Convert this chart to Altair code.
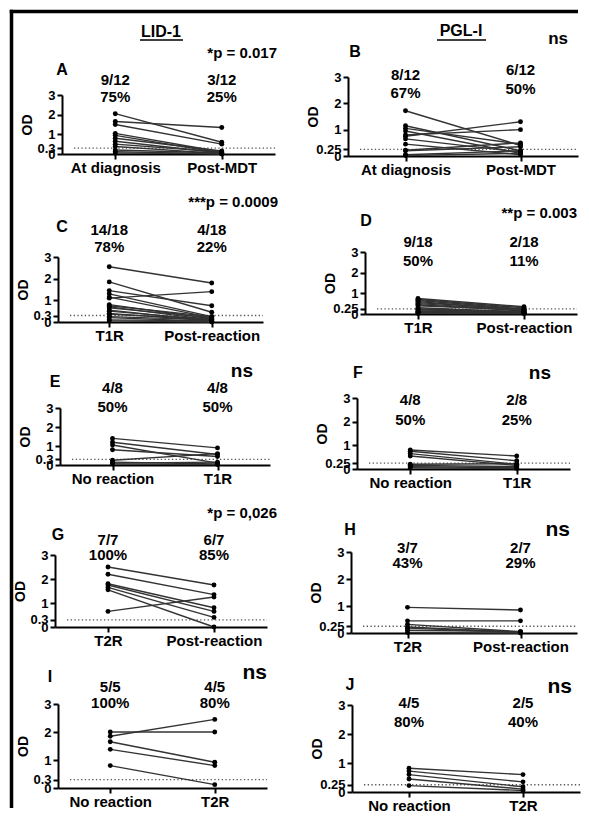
import altair as alt
import pandas as pd

FONT = "Liberation Sans"

# ---------------- data ----------------
COLUMN_TITLES = ["LID-1", "PGL-I"]
LID_TICKS = [0, 0.3, 1, 2, 3]
PGL_TICKS = [0, 0.25, 1, 2, 3]

A_CATS = ["At diagnosis", "Post-MDT"]
A_PRE = [2.05, 1.65, 1.5, 1.05, 0.95, 0.8, 0.65, 0.5, 0.38, 0.2, 0.12, 0.05]
A_POST = [0.6, 1.35, 0.5, 0.1, 0.05, 0.15, 0.05, 0.1, 0.02, 0.05, 0.0, 0.02]
A_COUNTS = [["9/12", "75%"], ["3/12", "25%"]]
A_P = "*p = 0.017"

B_CATS = ["At diagnosis", "Post-MDT"]
B_PRE = [1.72, 1.15, 1.05, 0.95, 0.8, 0.75, 0.65, 0.45, 0.22, 0.2, 0.05, 0.02]
B_POST = [0.4, 0.2, 0.45, 0.1, 1.0, 1.3, 0.15, 0.05, 0.5, 0.35, 0.2, 0.1]
B_COUNTS = [["8/12", "67%"], ["6/12", "50%"]]
B_P = "ns"

C_CATS = ["T1R", "Post-reaction"]
C_PRE = [2.55, 1.85, 1.45, 1.3, 1.15, 1.1, 0.8, 0.75, 0.7, 0.65, 0.55, 0.5, 0.4, 0.35, 0.25, 0.2, 0.1, 0.05]
C_POST = [1.8, 0.45, 0.75, 0.25, 0.2, 1.4, 0.15, 0.25, 0.1, 0.2, 0.05, 0.1, 0.05, 0.15, 0.1, 0.02, 0.05, 0.0]
C_COUNTS = [["14/18", "78%"], ["4/18", "22%"]]
C_P = "***p = 0.0009"

D_CATS = ["T1R", "Post-reaction"]
D_PRE = [0.75, 0.7, 0.65, 0.6, 0.55, 0.5, 0.45, 0.4, 0.3, 0.25, 0.22, 0.2, 0.15, 0.12, 0.1, 0.08, 0.05, 0.03]
D_POST = [0.35, 0.3, 0.25, 0.2, 0.22, 0.18, 0.15, 0.2, 0.1, 0.12, 0.1, 0.08, 0.05, 0.06, 0.04, 0.05, 0.03, 0.02]
D_COUNTS = [["9/18", "50%"], ["2/18", "11%"]]
D_P = "**p = 0.003"

E_CATS = ["No reaction", "T1R"]
E_PRE = [1.4, 1.2, 1.05, 0.8, 0.25, 0.15, 0.1, 0.05]
E_POST = [0.9, 0.55, 0.1, 0.45, 0.6, 0.05, 0.15, 0.02]
E_COUNTS = [["4/8", "50%"], ["4/8", "50%"]]
E_P = "ns"

F_CATS = ["No reaction", "T1R"]
F_PRE = [0.8, 0.75, 0.65, 0.55, 0.2, 0.15, 0.1, 0.05]
F_POST = [0.55, 0.35, 0.2, 0.15, 0.22, 0.1, 0.05, 0.02]
F_COUNTS = [["4/8", "50%"], ["2/8", "25%"]]
F_P = "ns"

G_CATS = ["T2R", "Post-reaction"]
G_PRE = [2.5, 2.2, 1.8, 1.75, 1.65, 1.55, 0.65]
G_POST = [1.75, 1.35, 0.8, 0.65, 0.4, 0.0, 1.25]
G_COUNTS = [["7/7", "100%"], ["6/7", "85%"]]
G_P = "*p = 0,026"

H_CATS = ["T2R", "Post-reaction"]
H_PRE = [0.95, 0.45, 0.32, 0.22, 0.18, 0.1, 0.02]
H_POST = [0.85, 0.45, 0.05, 0.03, 0.02, 0.05, 0.0]
H_COUNTS = [["3/7", "43%"], ["2/7", "29%"]]
H_P = "ns"

I_CATS = ["No reaction", "T2R"]
I_PRE = [2.0, 1.85, 1.65, 1.38, 0.8]
I_POST = [2.0, 2.45, 0.92, 0.8, 0.12]
I_COUNTS = [["5/5", "100%"], ["4/5", "80%"]]
I_P = "ns"

J_CATS = ["No reaction", "T2R"]
J_PRE = [0.82, 0.72, 0.6, 0.45, 0.22]
J_POST = [0.6, 0.35, 0.18, 0.1, 0.05]
J_COUNTS = [["4/5", "80%"], ["2/5", "40%"]]
J_P = "ns"

DATA = {
    "A": (A_CATS, A_PRE, A_POST, A_COUNTS, A_P, LID_TICKS),
    "B": (B_CATS, B_PRE, B_POST, B_COUNTS, B_P, PGL_TICKS),
    "C": (C_CATS, C_PRE, C_POST, C_COUNTS, C_P, LID_TICKS),
    "D": (D_CATS, D_PRE, D_POST, D_COUNTS, D_P, PGL_TICKS),
    "E": (E_CATS, E_PRE, E_POST, E_COUNTS, E_P, LID_TICKS),
    "F": (F_CATS, F_PRE, F_POST, F_COUNTS, F_P, PGL_TICKS),
    "G": (G_CATS, G_PRE, G_POST, G_COUNTS, G_P, LID_TICKS),
    "H": (H_CATS, H_PRE, H_POST, H_COUNTS, H_P, PGL_TICKS),
    "I": (I_CATS, I_PRE, I_POST, I_COUNTS, I_P, LID_TICKS),
    "J": (J_CATS, J_PRE, J_POST, J_COUNTS, J_P, PGL_TICKS),
}

# ---------------- layout (page pixels) ----------------
LAYOUT = {
    "A": dict(col=0, row=0, x0=62, xend=275, base=154, top=95, cy=[[80, 97], [80, 97]], letter=(62, 70), p=(277, 53), pfs=15),
    "B": dict(col=1, row=0, x0=348, xend=578, base=156, top=77, cy=[[75, 93], [70, 89]], letter=(355, 52), p=(568, 39), pfs=17),
    "C": dict(col=0, row=1, x0=58, xend=263, base=322, top=257, cy=[[230, 247], [230, 247]], letter=(62, 227), p=(278, 202), pfs=15),
    "D": dict(col=1, row=1, x0=365, xend=577, base=314, top=252, cy=[[242, 261], [242, 261]], letter=(366, 221), p=(577, 213), pfs=15),
    "E": dict(col=0, row=2, x0=60, xend=270, base=465, top=408, cy=[[388, 407], [388, 407]], letter=(55, 382), p=(253, 371), pfs=19),
    "F": dict(col=1, row=2, x0=357, xend=570, base=469, top=398, cy=[[400, 420], [400, 420]], letter=(358, 373), p=(551, 373), pfs=19),
    "G": dict(col=0, row=3, x0=55, xend=267, base=627, top=555, cy=[[540, 555], [540, 555]], letter=(58, 535), p=(277, 513), pfs=15),
    "H": dict(col=1, row=3, x0=351, xend=577, base=633, top=552, cy=[[548, 563], [548, 563]], letter=(350, 530), p=(570, 530), pfs=21),
    "I": dict(col=0, row=4, x0=58, xend=267, base=788, top=704, cy=[[687, 703], [687, 703]], letter=(50, 677), p=(267, 673), pfs=21),
    "J": dict(col=1, row=4, x0=352, xend=580, base=792, top=705, cy=[[703, 722], [703, 722]], letter=(350, 685), p=(572, 687), pfs=21),
}
ORDER = ["A", "B", "C", "D", "E", "F", "G", "H", "I", "J"]
COL_X = [55, 348]
ROW_GAP = 20
FIRST_TOP = 60
FRAME_W = 3.5

ROW_TOP = [FIRST_TOP]
for r in range(1, 5):
    prev = max(LAYOUT[k]["base"] for k in ORDER if LAYOUT[k]["row"] == r - 1)
    ROW_TOP.append(prev + ROW_GAP)
COL0_W = max(LAYOUT[k]["xend"] - COL_X[0] for k in ORDER if LAYOUT[k]["col"] == 0)
COL_GAP = COL_X[1] - COL_X[0] - COL0_W


def make_panel(key):
    cats, pre, post, counts, ptxt, ticks = DATA[key]
    lay = LAYOUT[key]
    colx = COL_X[lay["col"]]
    rowtop = ROW_TOP[lay["row"]]
    W = lay["xend"] - colx
    H = lay["base"] - rowtop
    L = lay["base"] - lay["top"]
    d = lay["x0"] - colx

    def u(py):
        return (lay["base"] - py) * 3.0 / L

    n = len(pre)
    df = pd.DataFrame({
        "subject": list(range(n)) * 2,
        "time": [cats[0]] * n + [cats[1]] * n,
        "od": list(pre) + list(post),
    })

    x = alt.X(
        "time:N",
        sort=cats,
        scale=alt.Scale(type="point", domain=cats, range=[d, W], padding=0.5),
        axis=alt.Axis(
            title=None, labelAngle=0, labelFont=FONT, labelFontSize=15,
            labelFontWeight="bold", labelColor="black", labelPadding=1,
            domainColor="black", domainWidth=2, tickColor="black",
            tickWidth=2, tickSize=5, grid=False, labelOverlap=False,
        ),
    )
    y = alt.Y(
        "od:Q",
        scale=alt.Scale(domain=[0, 3], range=[H, H - L], nice=False, zero=False),
        axis=alt.Axis(
            values=ticks, format="~g", title="OD", offset=-d,
            labelOverlap=False, labelFont=FONT, labelFontSize=13,
            labelFontWeight="bold", labelColor="black", labelPadding=2,
            domainColor="black", domainWidth=2, tickColor="black",
            tickWidth=2, tickSize=5, grid=False,
            titleFont=FONT, titleFontSize=14, titleFontWeight="bold",
            titleColor="black", titleX=-28, titleY=H - L / 2.0,
        ),
    )

    def at(py, **kw):
        row = {"od": u(py)}
        row.update(kw)
        return pd.DataFrame([row])

    thr = ticks[1]
    thr_rule = alt.Chart(pd.DataFrame([{"od": thr}])).mark_rule(
        color="#555", strokeWidth=1.3, strokeDash=[1.3, 2.4]
    ).encode(y=y, x=alt.value(d + 12), x2=alt.value(W))

    lines = alt.Chart(df).mark_line(color="#333", strokeWidth=1.4).encode(
        x=x, y=y, detail="subject:N"
    )
    pts = alt.Chart(df).mark_circle(color="black", size=24, opacity=1).encode(x=x, y=y)

    lab_rows = []
    for ci, pair in enumerate(counts):
        for ti, t in enumerate(pair):
            lab_rows.append({"time": cats[ci], "od": u(lay["cy"][ci][ti]), "txt": t})
    labs = alt.Chart(pd.DataFrame(lab_rows)).mark_text(
        font=FONT, fontSize=15, fontWeight="bold", color="black", baseline="middle"
    ).encode(x=x, y=y, text="txt:N")

    letter = alt.Chart(at(lay["letter"][1], txt=key)).mark_text(
        font=FONT, fontSize=16, fontWeight="bold", color="black", baseline="middle", align="center"
    ).encode(x=alt.value(lay["letter"][0] - colx), y=y, text="txt:N")

    ptext = alt.Chart(at(lay["p"][1], txt=ptxt)).mark_text(
        font=FONT, fontSize=lay["pfs"], fontWeight="bold", color="black", baseline="middle", align="right"
    ).encode(x=alt.value(lay["p"][0] - colx), y=y, text="txt:N")

    layers = [thr_rule, lines, pts, labs, letter, ptext]

    if key in ("A", "B"):
        title = COLUMN_TITLES[0 if key == "A" else 1]
        cx, cyy, ux1, ux2 = (161, 32, 140, 183) if key == "A" else (461, 31, 437, 486)
        head = alt.Chart(at(cyy, txt=title)).mark_text(
            font=FONT, fontSize=16, fontWeight="bold", color="black", baseline="middle", align="center"
        ).encode(x=alt.value(cx - colx), y=y, text="txt:N")
        under = alt.Chart(at(40)).mark_rule(color="black", strokeWidth=1.5).encode(
            x=alt.value(ux1 - colx), x2=alt.value(ux2 - colx), y=y
        )
        layers += [head, under]

    if key == "A":
        # Vega pads a rule's bounds by its full stroke width
        fc = 8 + FRAME_W
        frame_df = pd.DataFrame([{"k": 0}])
        left = alt.Chart(frame_df).mark_rule(color="black", strokeWidth=FRAME_W).encode(
            x=alt.value(fc - colx), y=alt.value(fc - FRAME_W / 2.0 - rowtop), y2=alt.value(808 - rowtop)
        )
        topl = alt.Chart(frame_df).mark_rule(color="black", strokeWidth=FRAME_W).encode(
            x=alt.value(fc - FRAME_W / 2.0 - colx), x2=alt.value(578 - colx), y=alt.value(fc - rowtop)
        )
        layers += [left, topl]

    return alt.layer(*layers).properties(width=W, height=H)


panels = [make_panel(k) for k in ORDER]

chart = (
    alt.concat(
        *panels,
        columns=2,
        spacing=alt.RowColnumber(row=ROW_GAP, column=COL_GAP),
        bounds="flush",
    )
    .properties(padding=0, background="white")
    .configure_view(strokeWidth=0)
)

chart.save("out.html", embed_options={"renderer": "svg", "actions": False})
